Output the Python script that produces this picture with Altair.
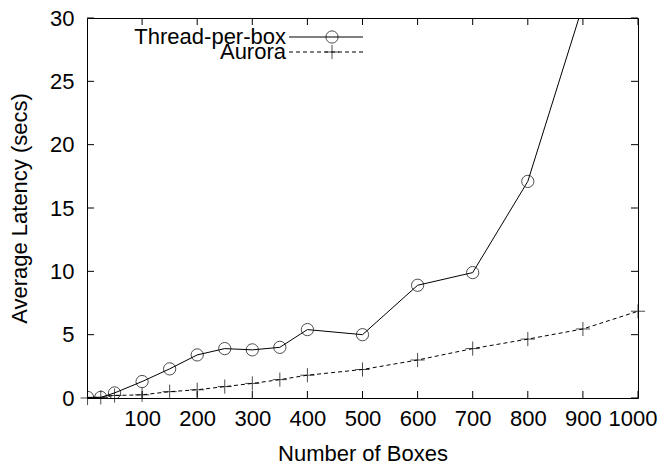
import altair as alt
import pandas as pd

# ---- data ----
boxes_thread = [1, 25, 50, 100, 150, 200, 250, 300, 350, 400, 500, 600, 700, 800, 900]
latency_thread = [0.05, 0.05, 0.4, 1.3, 2.3, 3.4, 3.9, 3.8, 4.0, 5.4, 5.0, 8.9, 9.9, 17.1, 31.0]

boxes_aurora = [1, 25, 50, 100, 150, 200, 250, 300, 350, 400, 500, 600, 700, 800, 900, 1000]
latency_aurora = [0.0, 0.05, 0.2, 0.25, 0.5, 0.65, 0.9, 1.15, 1.45, 1.8, 2.25, 3.0, 3.9, 4.65, 5.45, 6.85]

x_ticks = [100, 200, 300, 400, 500, 600, 700, 800, 900, 1000]
y_ticks = [0, 5, 10, 15, 20, 25, 30]
legend_labels = ["Thread-per-box", "Aurora"]

FONT = "Liberation Sans"
FS = 22
W, H = 551, 380
PLUS = "M-1,0L1,0M0,-1L0,1"

thread = pd.DataFrame({"boxes": boxes_thread, "latency": latency_thread})
aurora = pd.DataFrame({"boxes": boxes_aurora, "latency": latency_aurora})
xt = pd.DataFrame({"v": x_ticks})
yt = pd.DataFrame({"v": y_ticks})
one = pd.DataFrame({"a": [0]})

xscale = alt.Scale(domain=[0, 1000], nice=False, zero=False)
yscale = alt.Scale(domain=[0, 30], nice=False)

X = alt.X("boxes:Q", scale=xscale,
          axis=alt.Axis(values=x_ticks, title="Number of Boxes", ticks=False, domain=False,
                        grid=False, labelPadding=10, titlePadding=14, labelOverlap=False,
                        labelFlush=True, labelFlushOffset=19, format="d"))
Y = alt.Y("latency:Q", scale=yscale,
          axis=alt.Axis(values=y_ticks, title="Average Latency (secs)", ticks=False, domain=False,
                        grid=False, labelPadding=13, titlePadding=18, labelOverlap=False,
                        labelFlush=False, format="d"))

thread_line = alt.Chart(thread).mark_line(color="black", strokeWidth=1, clip=True).encode(x=X, y=Y)
thread_pts = alt.Chart(thread).mark_point(shape="circle", size=150, color="black", strokeWidth=1,
                                          filled=False, clip=True).encode(x="boxes:Q", y="latency:Q")
aurora_line = alt.Chart(aurora).mark_line(color="black", strokeWidth=1, strokeDash=[4, 3]).encode(
    x="boxes:Q", y="latency:Q")
aurora_pts = alt.Chart(aurora).mark_point(shape=PLUS, size=200, color="black", strokeWidth=1,
                                          filled=False).encode(x="boxes:Q", y="latency:Q")

# inward ticks on all four sides
tb = alt.Chart(xt).mark_rule(color="black", strokeWidth=1).encode(
    x="v:Q", y=alt.value(H), y2=alt.value(H - 7))
tt = alt.Chart(xt).mark_rule(color="black", strokeWidth=1).encode(
    x="v:Q", y=alt.value(0), y2=alt.value(7))
tl = alt.Chart(yt).mark_rule(color="black", strokeWidth=1).encode(
    y=alt.Y("v:Q"), x=alt.value(0), x2=alt.value(7))
tr = alt.Chart(yt).mark_rule(color="black", strokeWidth=1).encode(
    y=alt.Y("v:Q"), x=alt.value(W), x2=alt.value(W - 7))

# legend (inside the plot, top-left)
ly1, ly2 = 19, 34
lx_text, lx0, lx1, lxm = 199, 202, 276, 245
leg_t1 = alt.Chart(one).mark_text(align="right", baseline="middle", font=FONT, fontSize=FS,
                                  color="black").encode(x=alt.value(lx_text), y=alt.value(ly1),
                                                        text=alt.value(legend_labels[0]))
leg_t2 = alt.Chart(one).mark_text(align="right", baseline="middle", font=FONT, fontSize=FS,
                                  color="black").encode(x=alt.value(lx_text), y=alt.value(ly2),
                                                        text=alt.value(legend_labels[1]))
leg_l1 = alt.Chart(one).mark_rule(color="black", strokeWidth=1).encode(
    x=alt.value(lx0), x2=alt.value(lx1), y=alt.value(ly1))
leg_l2 = alt.Chart(one).mark_rule(color="black", strokeWidth=1, strokeDash=[4, 3]).encode(
    x=alt.value(lx0), x2=alt.value(lx1), y=alt.value(ly2))
leg_p1 = alt.Chart(one).mark_point(shape="circle", size=150, color="black", strokeWidth=1,
                                   filled=False).encode(x=alt.value(lxm), y=alt.value(ly1))
leg_p2 = alt.Chart(one).mark_point(shape=PLUS, size=200, color="black", strokeWidth=1,
                                   filled=False).encode(x=alt.value(lxm), y=alt.value(ly2))

chart = alt.layer(
    thread_line, thread_pts, aurora_line, aurora_pts, tb, tt, tl, tr,
    leg_l1, leg_l2, leg_p1, leg_p2, leg_t1, leg_t2,
).properties(
    width=W, height=H,
    autosize=alt.AutoSizeParams(type="none"),
    padding={"left": 79, "top": 10, "right": 20, "bottom": 69},
    background="white",
).configure_view(
    stroke="black", strokeWidth=1,
).configure_axis(
    labelFont=FONT, titleFont=FONT, labelFontSize=FS, titleFontSize=FS,
    labelColor="black", titleColor="black", titleFontWeight="normal",
)

chart.save("out.html", embed_options={"renderer": "svg", "actions": False})
